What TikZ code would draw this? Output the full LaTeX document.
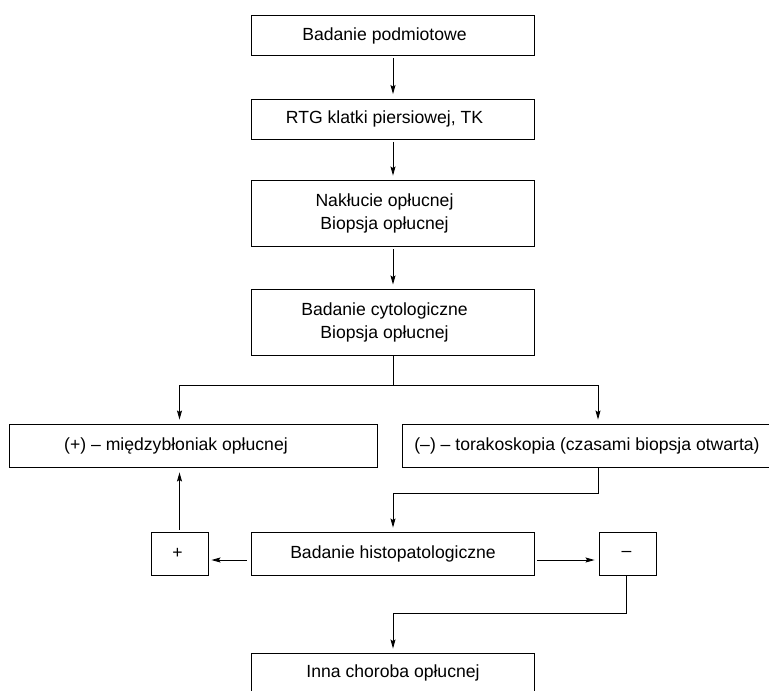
\documentclass[tikz,border=0pt]{standalone}
\usepackage{fontspec}
\setmainfont{Liberation Sans}
\usetikzlibrary{arrows.meta}

\begin{document}
\begin{tikzpicture}[x=1pt, y=-1pt,
  box/.style={draw, line width=0.9pt, inner sep=0pt, minimum width=283, minimum height=43},
  txt/.style={font=\fontsize{17.6}{23}\selectfont, align=center, inner sep=0pt},
  flow/.style={line width=0.9pt, -{Stealth[length=9pt, width=5pt, inset=1.5pt]}},
  link/.style={line width=0.9pt}
]
\useasboundingbox (0,0) rectangle (769,691);
\clip (0,0) rectangle (769,691);

% main column
\node[box, minimum height=40, label={[txt, xshift=-8.5]center:Badanie podmiotowe}] (b1) at (393,35.5) {};
\node[box, minimum height=40, label={[txt, xshift=-8.5]center:RTG klatki piersiowej, TK}] (b2) at (393,119) {};
\node[box, minimum height=66, label={[txt, xshift=-8.5]center:Nakłucie opłucnej\\Biopsja opłucnej}] (b3) at (393,213.5) {};
\node[box, minimum height=65.5, label={[txt, xshift=-8.5]center:Badanie cytologiczne\\Biopsja opłucnej}] (b4) at (393,322.2) {};

% result boxes
\node[box, minimum width=368, label={[txt, xshift=-17]center:(+) – międzybłoniak opłucnej}] (pm) at (193,445.5) {};
\node[box, minimum width=387, label={[txt, xshift=-9]center:(–) – torakoskopia (czasami biopsja otwarta)}] (mn) at (596,445.5) {};

% histopathology row
\node[box, label={[txt]center:Badanie histopatologiczne}] (hist) at (393,553.5) {};
\node[box, minimum width=57, label={[txt, xshift=-2]center:+}] (plus) at (179.5,553.5) {};
\node[box, minimum width=57, label={[txt, xshift=-1.5]center:–}] (minus) at (628,553.5) {};

\node[box, label={[txt, yshift=2]center:Inna choroba opłucnej}] (inna) at (393,674.5) {};

\coordinate (rx) at (598,0);

% connectors
\draw[flow, shorten <=2.5pt, shorten >=4.5pt] (b1.south) -- (b2.north);
\draw[flow, shorten <=2.5pt, shorten >=4.5pt] (b2.south) -- (b3.north);
\draw[flow, shorten <=2.5pt, shorten >=4.5pt] (b3.south) -- (b4.north);

\draw[link] (b4.south) -- ++(0,30) coordinate (split);
\draw[flow, shorten >=4pt] (split) -| (plus.north |- pm.north);
\draw[flow, shorten >=4pt] (split) -| (rx |- mn.north);

\draw[flow, shorten >=4pt] (rx |- mn.south) -- ++(0,26) -| (hist.north);

\draw[flow, shorten <=4.5pt, shorten >=3pt] ([yshift=-6.5]hist.west) -- ([yshift=-6.5]plus.east);
\draw[flow, shorten <=2pt, shorten >=4.5pt] ([yshift=-6.5]hist.east) -- ([yshift=-6.5]minus.west);

\draw[flow, shorten <=2pt, shorten >=5pt] (plus.north) -- (plus.north |- pm.south);

\draw[flow, shorten >=4pt] ([xshift=-2]minus.south) -- ++(0,38) -| (inna.north);
\end{tikzpicture}
\end{document}
